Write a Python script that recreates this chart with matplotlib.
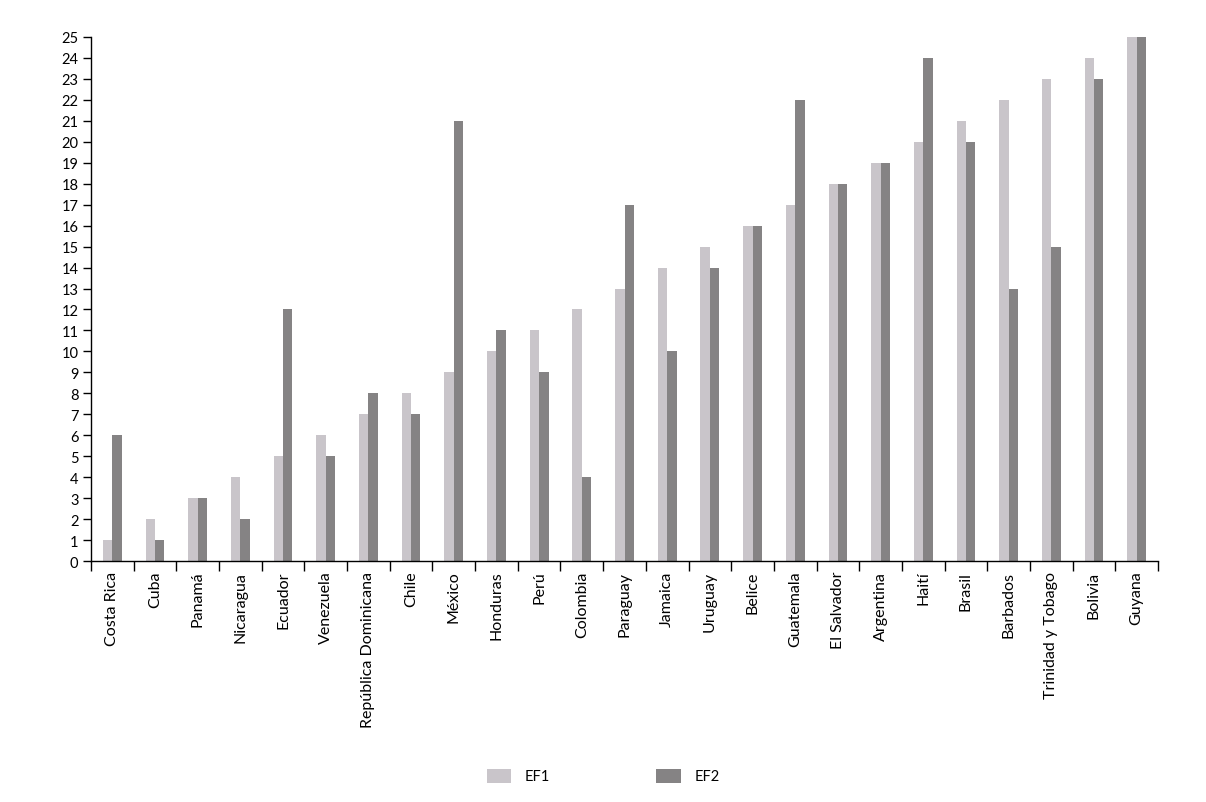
import matplotlib
matplotlib.use("Agg")
import matplotlib.pyplot as plt
import numpy as np
from matplotlib.patches import Patch

countries = ["Costa Rica", "Cuba", "Panamá", "Nicaragua", "Ecuador", "Venezuela",
             "República Dominicana", "Chile", "México", "Honduras", "Perú", "Colombia",
             "Paraguay", "Jamaica", "Uruguay", "Belice", "Guatemala", "El Salvador",
             "Argentina", "Haití", "Brasil", "Barbados", "Trinidad y Tobago", "Bolivia", "Guyana"]
ef1 = [1, 2, 3, 4, 5, 6, 7, 8, 9, 10, 11, 12, 13, 14, 15, 16, 17, 18, 19, 20, 21, 22, 23, 24, 25]
ef2 = [6, 1, 3, 2, 12, 5, 8, 7, 21, 11, 9, 4, 17, 10, 14, 16, 22, 18, 19, 24, 20, 13, 15, 23, 25]
series_names = ["EF1", "EF2"]
yticks = list(range(0, 26))

plt.rcParams['font.family'] = ['Lato', 'DejaVu Sans']

fig = plt.figure(figsize=(12.06, 8.03), dpi=100)
ax = fig.add_axes([91/1206, (803-562)/803, (1158-91)/1206, (562-38)/803])

c1 = '#c9c5ca'
c2 = '#858384'
x = np.arange(len(countries))
w = 0.22
ax.bar(x - w/2, ef1, width=w, color=c1, edgecolor='none')
ax.bar(x + w/2, ef2, width=w, color=c2, edgecolor='none')

ax.set_xlim(-0.5, len(countries) - 0.5)
ax.set_ylim(0, 25)
ax.set_yticks(yticks)
ax.set_yticklabels([str(v) for v in yticks], fontsize=10.5)
ax.tick_params(axis='y', length=6, width=1, pad=3, color='black')

ax.set_xticks(x)
ax.set_xticklabels(countries, rotation=90, fontsize=11.5)
ax.tick_params(axis='x', length=0, pad=7)
ax.set_xticks(np.arange(-0.5, len(countries)), minor=True)
ax.tick_params(axis='x', which='minor', length=7, width=1, color='black')

for s in ['top', 'right']:
    ax.spines[s].set_visible(False)
for s in ['left', 'bottom']:
    ax.spines[s].set_linewidth(1)
    ax.spines[s].set_color('black')

handles = [Patch(facecolor=c1, edgecolor='none'), Patch(facecolor=c2, edgecolor='none')]
fig.legend(handles, series_names, loc='center', bbox_to_anchor=(0.5, (803-777)/803),
           ncol=2, frameon=False, fontsize=10.5, columnspacing=7.3, handlelength=1.7,
           handleheight=1.1, handletextpad=0.9)

fig.savefig("out.png", dpi=100, facecolor='white')
